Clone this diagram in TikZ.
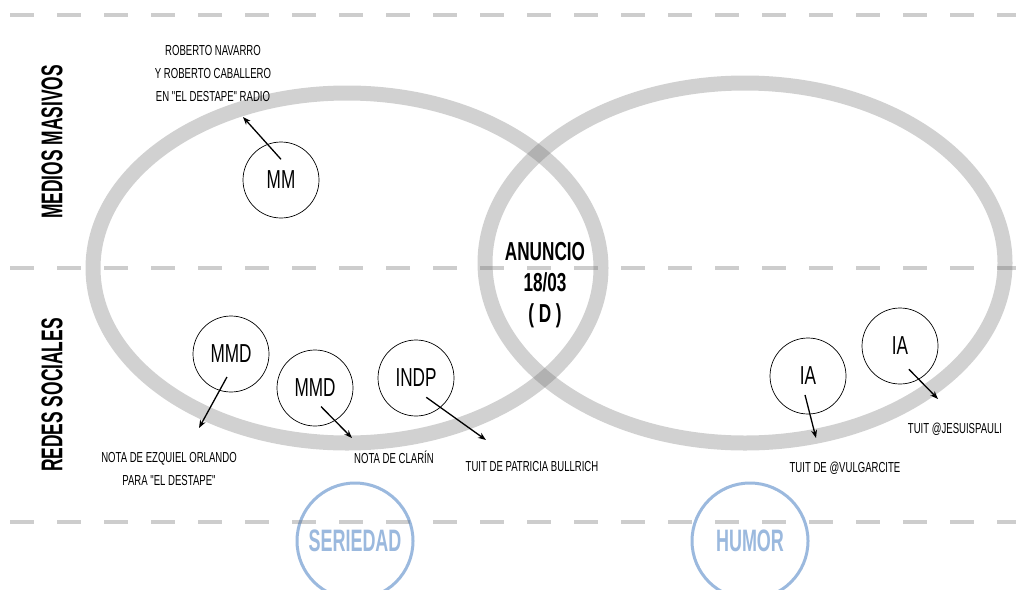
\documentclass[tikz,border=0pt]{standalone}
\usepackage{fontspec}
\setmainfont{Liberation Sans}
\newfontfamily\lblfont[FakeStretch=0.66]{Liberation Sans}
\newfontfamily\headfont[FakeStretch=0.58]{Liberation Sans}
\usetikzlibrary{calc}
\usetikzlibrary{arrows.meta}
\definecolor{ringgray}{RGB}{105,105,105}
\definecolor{toneblue}{RGB}{155,185,222}

\begin{document}
\begin{tikzpicture}[
  x=1pt,y=-1pt,
  ring/.style={draw=ringgray,draw opacity=0.3,line width=15pt},
  band/.style={draw=ringgray,draw opacity=0.33,line width=4pt,dash pattern=on 24pt off 23pt},
  medium/.style={circle,draw,line width=0.7pt,minimum size=76pt,inner sep=0pt,
    font=\lblfont\fontsize{26}{30}\selectfont},
  tone/.style={circle,draw=toneblue,line width=3pt,minimum size=116pt,inner sep=0pt,
    text=toneblue,font=\headfont\bfseries\fontsize{31}{36}\selectfont},
  note/.style={inner sep=0pt,font=\lblfont\fontsize{14.5}{23}\selectfont},
  axis/.style={rotate=90,inner sep=0pt,font=\headfont\bfseries\fontsize{30}{36}\selectfont},
  pointer/.style={-{Stealth[length=8pt,width=6pt]},line width=1.3pt}
  ]
  \clip (0,0) rectangle (1016,589);
  \fill[white] (0,0) rectangle (1016,589);
  % the two fields
  \draw[ring] (347,268) ellipse [x radius=254pt,y radius=175pt];
  \draw[ring] (745,263) ellipse [x radius=260pt,y radius=180pt];
  \node (seriedad) [tone] at (355,541) {SERIEDAD};
  \node (humor)    [tone] at (750,541) {HUMOR};
  % rows
  \draw[band] (10,15)  -- (1016,15);
  \draw[band] (10,268) -- (1016,268);
  \draw[band] (10,522) -- (1016,522);
  \node (masivos)  [axis] at (52,142) {MEDIOS MASIVOS};
  \node (sociales) [axis] at (52,395) {REDES SOCIALES};
  \node (anuncio)  [align=center,inner sep=0pt,
    font=\lblfont\bfseries\fontsize{26}{31}\selectfont] at (545,285) {ANUNCIO\\18/03\\( D )};
  % sources
  \node (mm)   [medium] at (281,180) {MM};
  \node (mmd1) [medium] at (231,354) {MMD};
  \node (mmd2) [medium] at (315,388) {MMD};
  \node (indp) [medium] at (416,378) {INDP};
  \node (ia1)  [medium] at (808,376) {IA};
  \node (ia2)  [medium] at (900,346) {IA};
  \coordinate (mm-tip)   at (243,117);
  \coordinate (mmd1-tip) at (199,428);
  \coordinate (mmd2-tip) at (352,438);
  \coordinate (indp-tip) at (486,440);
  \coordinate (ia1-tip)  at (816,438);
  \coordinate (ia2-tip)  at (938,399);
  \draw[pointer] ($(mm.center)!0.54!(mm.north)$) -- (mm-tip);
  \draw[pointer] ($(mmd1.center)!0.61!(mmd1.-100)$) -- (mmd1-tip);
  \draw[pointer] ($(mmd2.center)!0.51!(mmd2.-72)$) -- (mmd2-tip);
  \draw[pointer] ($(indp.center)!0.57!(indp.-62)$) -- (indp-tip);
  \draw[pointer] ($(ia1.center)!0.5!(ia1.-99)$) -- (ia1-tip);
  \draw[pointer] ($(ia2.center)!0.65!(ia2.-69)$) -- (ia2-tip);
  \node (mm-note)   [note,align=center] at (213,73.5)
    {ROBERTO NAVARRO\\Y ROBERTO CABALLERO\\EN "EL DESTAPE" RADIO};
  \node (mmd1-note) [note,align=center] at (169,469.5)
    {NOTA DE EZQUIEL ORLANDO\\PARA "EL DESTAPE"};
  \node (mmd2-note) [note,anchor=base] at (394,463) {NOTA DE CLARÍN};
  \node (indp-note) [note,anchor=base] at (532,471) {TUIT DE PATRICIA BULLRICH};
  \node (ia1-note)  [note,anchor=base] at (845,472) {TUIT DE @VULGARCITE};
  \node (ia2-note)  [note,anchor=base] at (955,433) {TUIT @JESUISPAULI};
\end{tikzpicture}
\end{document}
